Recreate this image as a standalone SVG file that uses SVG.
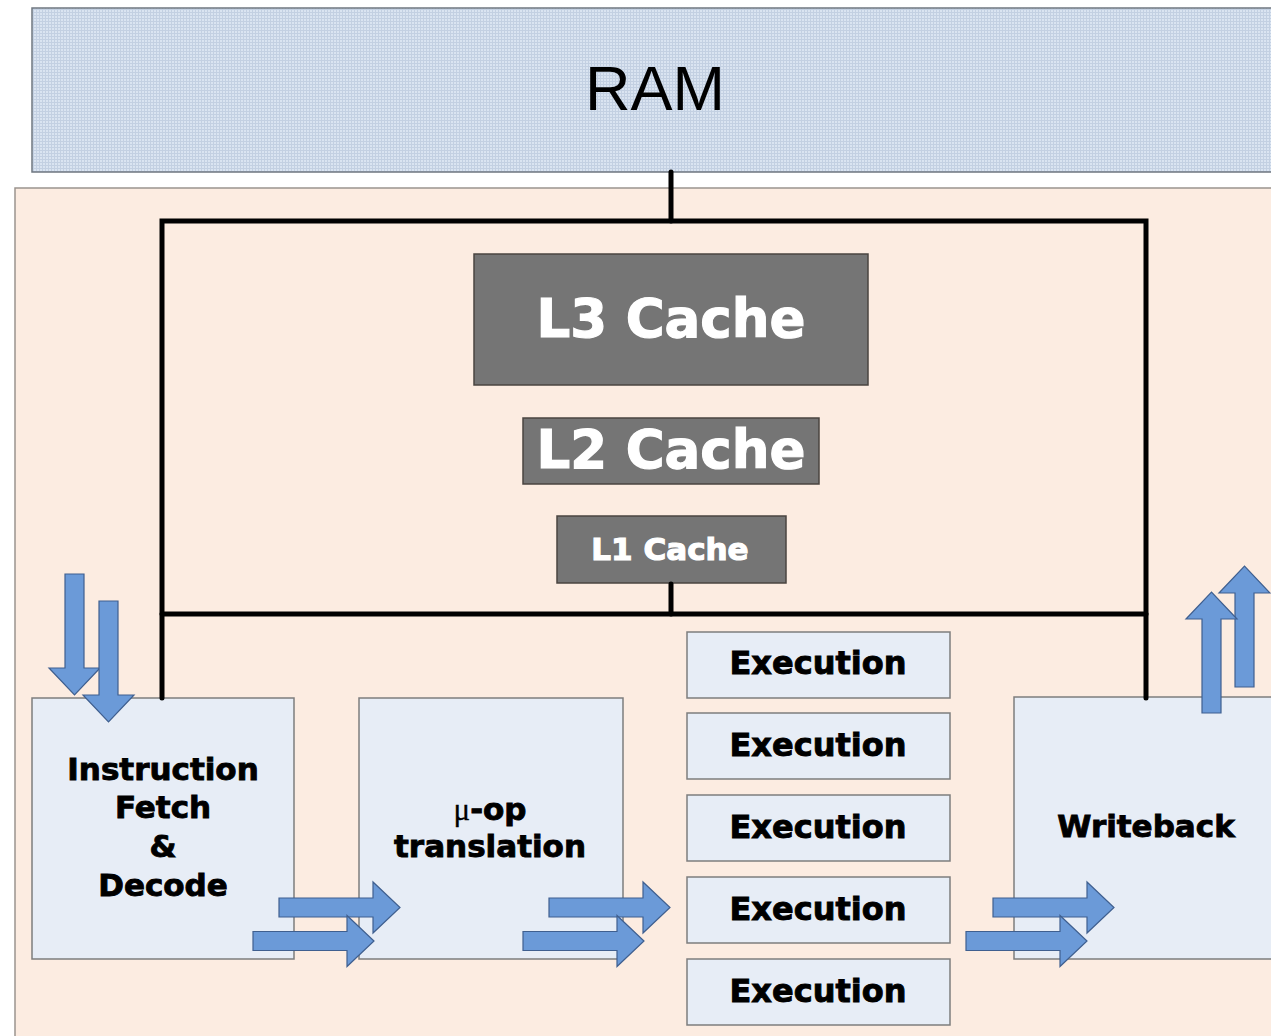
<svg xmlns="http://www.w3.org/2000/svg" xmlns:xlink="http://www.w3.org/1999/xlink" width="1271" height="1036" viewBox="0 0 1271 1036">
  <defs>
    <!-- fine grid texture for the memory band -->
    <pattern id="grid" width="3" height="3" patternUnits="userSpaceOnUse">
      <rect width="3" height="3" fill="#dae4f1"/>
      <path d="M0 0.5H3M0.5 0V3" stroke="#c3d0e2" stroke-width="1"/>
    </pattern>
    <!-- block arrow pointing right; origin = tail centre -->
    <polygon id="blockArrow" points="0,-9.5 94,-9.5 94,-25.5 121,0 94,25.5 94,9.5 0,9.5"/>
    <style>
      .bus { fill: none; stroke: #000; stroke-width: 5; stroke-linecap: round; stroke-linejoin: miter; }
      .cache { fill: #757575; stroke: #4a4440; stroke-width: 1.5; }
      .stage { fill: #e7edf6; stroke: #7d7d7d; stroke-width: 1.5; }
      .flow { fill: #6b9ad8; stroke: #3f5f8f; stroke-width: 1.2; }
      .lbl { font-family: "DejaVu Sans", "Liberation Sans", sans-serif; font-weight: bold; text-anchor: middle; fill: #000; stroke: #000; stroke-width: 0.9; }
      .clbl { font-family: "DejaVu Sans", "Liberation Sans", sans-serif; font-weight: bold; text-anchor: middle; fill: #fff; stroke: #fff; stroke-width: 1.2; }
      .mu { font-family: "Liberation Serif", serif; font-weight: normal; stroke-width: 0.3; }
    </style>
  </defs>

  <rect width="1271" height="1036" fill="#ffffff"/>

  <!-- memory band -->
  <g id="ram">
    <rect x="32" y="8" width="1260" height="164" fill="url(#grid)" stroke="#6f7780" stroke-width="1.5"/>
    <text x="655" y="110" font-family="Liberation Sans, Arial, sans-serif" font-size="63" text-anchor="middle" fill="#000">RAM</text>
  </g>

  <!-- processor die -->
  <g id="cpu">
    <rect x="15" y="188" width="1280" height="870" fill="#fcece1" stroke="#9a948e" stroke-width="1.5"/>
  </g>

  <!-- cache hierarchy -->
  <g id="l3">
    <rect class="cache" x="474" y="254" width="394" height="131"/>
    <text class="clbl" x="671" y="337" font-size="53">L3 Cache</text>
  </g>
  <g id="l2">
    <rect class="cache" x="523" y="418" width="296" height="66"/>
    <text class="clbl" x="671" y="468" font-size="53">L2 Cache</text>
  </g>
  <g id="l1">
    <rect class="cache" x="557" y="516" width="229" height="67"/>
    <text class="clbl" x="670" y="560" font-size="31">L1 Cache</text>
  </g>

  <!-- pipeline stages -->
  <g id="fetch-decode">
    <rect class="stage" x="32" y="698" width="262" height="261"/>
    <text class="lbl" x="163" y="780" font-size="31">Instruction</text>
    <text class="lbl" x="163" y="818" font-size="31">Fetch</text>
    <text class="lbl" x="163" y="857" font-size="31">&amp;</text>
    <text class="lbl" x="163" y="896" font-size="31">Decode</text>
  </g>
  <g id="uop-translation">
    <rect class="stage" x="359" y="698" width="264" height="261"/>
    <text class="lbl" x="490" y="820" font-size="31"><tspan class="mu">μ</tspan>-op</text>
    <text class="lbl" x="490" y="857" font-size="31">translation</text>
  </g>
  <g id="exec-1">
    <rect class="stage" x="687" y="632" width="263" height="66"/>
    <text class="lbl" x="818" y="674" font-size="32">Execution</text>
  </g>
  <g id="exec-2">
    <rect class="stage" x="687" y="713" width="263" height="66"/>
    <text class="lbl" x="818" y="756" font-size="32">Execution</text>
  </g>
  <g id="exec-3">
    <rect class="stage" x="687" y="795" width="263" height="66"/>
    <text class="lbl" x="818" y="838" font-size="32">Execution</text>
  </g>
  <g id="exec-4">
    <rect class="stage" x="687" y="877" width="263" height="66"/>
    <text class="lbl" x="818" y="920" font-size="32">Execution</text>
  </g>
  <g id="exec-5">
    <rect class="stage" x="687" y="959" width="263" height="66"/>
    <text class="lbl" x="818" y="1002" font-size="32">Execution</text>
  </g>
  <g id="writeback">
    <rect class="stage" x="1014" y="697" width="280" height="262"/>
    <text class="lbl" x="1146" y="837" font-size="31">Writeback</text>
  </g>

  <!-- buses and data-flow arrows (drawn over the stage boxes) -->
  <g id="connectors">
    <g id="bus">
      <line class="bus" x1="671" y1="172" x2="671" y2="221"/>
      <path class="bus" d="M162 698V221H1146V698"/>
      <line class="bus" x1="162" y1="614" x2="1146" y2="614"/>
      <line class="bus" x1="671" y1="584" x2="671" y2="614"/>
    </g>
    <g id="fetch-in">
      <use xlink:href="#blockArrow" class="flow" transform="translate(74.5,574) rotate(90)"/>
      <use xlink:href="#blockArrow" class="flow" transform="translate(108.5,601) rotate(90)"/>
    </g>
    <g id="decode-to-uop">
      <use xlink:href="#blockArrow" class="flow" transform="translate(279,907.5)"/>
      <use xlink:href="#blockArrow" class="flow" transform="translate(253,941)"/>
    </g>
    <g id="uop-to-exec">
      <use xlink:href="#blockArrow" class="flow" transform="translate(549,907.5)"/>
      <use xlink:href="#blockArrow" class="flow" transform="translate(523,941)"/>
    </g>
    <g id="exec-to-writeback">
      <use xlink:href="#blockArrow" class="flow" transform="translate(993,907.5)"/>
      <use xlink:href="#blockArrow" class="flow" transform="translate(966,941)"/>
    </g>
    <g id="writeback-out">
      <use xlink:href="#blockArrow" class="flow" transform="translate(1244.5,687) rotate(-90)"/>
      <use xlink:href="#blockArrow" class="flow" transform="translate(1211.5,713) rotate(-90)"/>
    </g>
  </g>
</svg>
